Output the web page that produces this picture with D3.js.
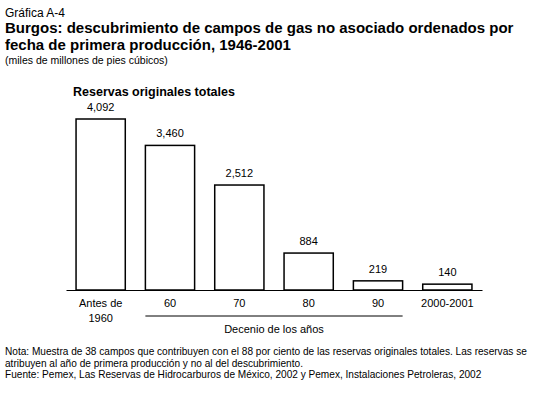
<!DOCTYPE html>
<html><head><meta charset="utf-8">
<script src="https://cdn.jsdelivr.net/npm/d3@7/dist/d3.min.js"></script>
<style>body{margin:0;background:#fff}svg{display:block;font-family:"Liberation Sans",Arial,sans-serif}</style>
</head><body><svg id="c" width="533" height="394"></svg>
<script>
const categories = ["Antes de|1960","60","70","80","90","2000-2001"];
const values = [4092,3460,2512,884,219,140];
const valueLabels = ["4,092","3,460","2,512","884","219","140"];

const svg = d3.select("#c");
const base = 290;
const x = d3.scaleBand().domain(categories).range([66,482]).paddingInner(0.29).paddingOuter(0.145);
const y = d3.scaleLinear().domain([0,4092]).range([base,119]);

// titles
svg.append("text").attr("x",5).attr("y",17).attr("font-size",12).text("Gráfica A-4");
svg.append("text").attr("x",5).attr("y",33).attr("font-size",15).attr("font-weight","bold").text("Burgos: descubrimiento de campos de gas no asociado ordenados por");
svg.append("text").attr("x",5).attr("y",50).attr("font-size",15).attr("font-weight","bold").text("fecha de primera producción, 1946-2001");
svg.append("text").attr("x",5).attr("y",64).attr("font-size",10.5).text("(miles de millones de pies cúbicos)");
svg.append("text").attr("x",73).attr("y",96).attr("font-size",12.5).attr("font-weight","bold").text("Reservas originales totales");

// bars
svg.selectAll("rect.bar").data(values).join("rect")
  .attr("class","bar")
  .attr("x",(d,i)=>x(categories[i]))
  .attr("width",x.bandwidth())
  .attr("y",d=>y(d))
  .attr("height",d=>base-y(d))
  .attr("fill","#fff").attr("stroke","#000").attr("stroke-width",1.5);

svg.selectAll("text.val").data(values).join("text")
  .attr("class","val")
  .attr("x",(d,i)=>x(categories[i])+x.bandwidth()/2)
  .attr("y",d=>y(d)-8)
  .attr("text-anchor","middle").attr("font-size",11)
  .text((d,i)=>valueLabels[i]);

// axis
const axis = d3.axisBottom(x).tickSize(0).tickPadding(0).tickFormat(()=>"");
const g = svg.append("g").attr("transform",`translate(0,${base})`).call(axis);
g.select(".domain").attr("stroke","#000").attr("stroke-width",1.2);
g.selectAll(".tick").each(function(d){
  const parts = d.split("|");
  const t = d3.select(this).append("text").attr("fill","#000").attr("font-size",11).attr("text-anchor","middle").attr("y",17);
  parts.forEach((p,k)=>t.append("tspan").attr("x",0).attr("dy",k===0?0:15).text(p));
});

// decade bracket
svg.append("line").attr("x1",x("60")).attr("x2",x("90")+x.bandwidth()).attr("y1",316).attr("y2",316).attr("stroke","#000").attr("stroke-width",1);
svg.append("text").attr("x",(x("60")+x("90")+x.bandwidth())/2).attr("y",333).attr("text-anchor","middle").attr("font-size",11).text("Decenio de los años");

// notes
const notes = ["Nota: Muestra de 38 campos que contribuyen con el 88 por ciento de las reservas originales totales. Las reservas se",
"atribuyen al año de primera producción y no al del descubrimiento.",
"Fuente: Pemex, Las Reservas de Hidrocarburos de México, 2002 y Pemex, Instalaciones Petroleras, 2002"];
notes.forEach((n,i)=>svg.append("text").attr("x",5).attr("y",355+i*11.5).attr("font-size",10.1).text(n));
</script></body></html>
